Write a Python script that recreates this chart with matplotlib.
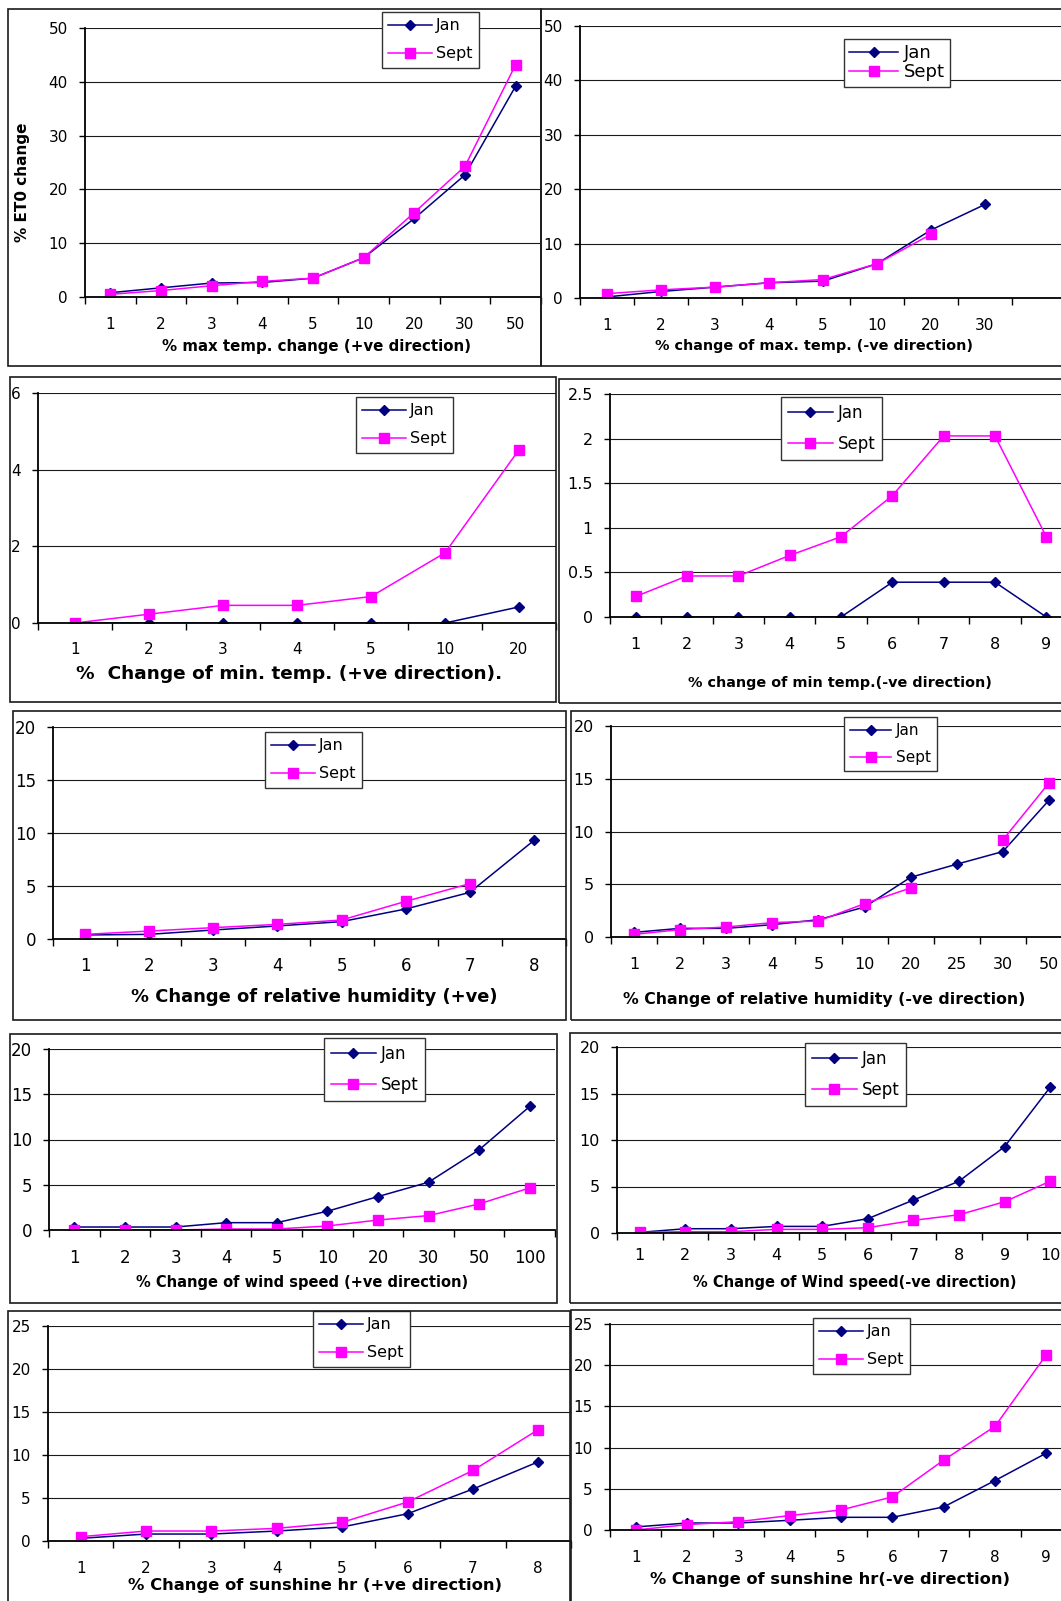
import numpy as np
import matplotlib.pyplot as plt
from matplotlib.patches import Rectangle
from matplotlib.ticker import FuncFormatter

plt.rcParams['font.family'] = ['DejaVu Sans']

W, H = 1061, 1601
JAN_COLOR = '#000080'
SEPT_COLOR = '#ff00ff'
nan = np.nan

# --- data (% ET0 change) ---
maxt_pos_cats = ['1', '2', '3', '4', '5', '10', '20', '30', '50']
maxt_pos_jan = [0.8, 1.7, 2.6, 2.7, 3.5, 7.3, 14.6, 22.7, 39.2]
maxt_pos_sept = [0.5, 1.2, 2.1, 2.9, 3.5, 7.3, 15.7, 24.3, 43.2]

maxt_neg_cats = ['1', '2', '3', '4', '5', '10', '20', '30', '']
maxt_neg_jan = [0.2, 1.2, 2.0, 2.8, 3.1, 6.3, 12.5, 17.2, nan]
maxt_neg_sept = [0.8, 1.5, 2.0, 2.8, 3.4, 6.3, 11.7, nan, nan]

mint_pos_cats = ['1', '2', '3', '4', '5', '10', '20']
mint_pos_jan = [0, 0, 0, 0, 0, 0, 0.42]
mint_pos_sept = [0, 0.23, 0.46, 0.46, 0.69, 1.83, 4.52]

mint_neg_cats = ['1', '2', '3', '4', '5', '6', '7', '8', '9']
mint_neg_jan = [0, 0, 0, 0, 0, 0.39, 0.39, 0.39, 0]
mint_neg_sept = [0.23, 0.46, 0.46, 0.69, 0.9, 1.36, 2.03, 2.03, 0.9]

rh_pos_cats = ['1', '2', '3', '4', '5', '6', '7', '8']
rh_pos_jan = [0.38, 0.44, 0.85, 1.23, 1.64, 2.83, 4.4, 9.3]
rh_pos_sept = [0.44, 0.75, 1.07, 1.38, 1.79, 3.55, 5.22, nan]

rh_neg_cats = ['1', '2', '3', '4', '5', '10', '20', '25', '30', '50']
rh_neg_jan = [0.44, 0.82, 0.82, 1.17, 1.64, 2.84, 5.66, 6.9, 8.1, 12.96]
rh_neg_sept = [0.25, 0.7, 0.95, 1.36, 1.52, 3.16, 4.65, nan, 9.2, 14.6]

wind_pos_cats = ['1', '2', '3', '4', '5', '10', '20', '30', '50', '100']
wind_pos_jan = [0.33, 0.33, 0.33, 0.81, 0.81, 2.07, 3.69, 5.28, 8.86, 13.65]
wind_pos_sept = [0, 0, 0, 0.11, 0.11, 0.44, 1.1, 1.59, 2.88, 4.65]

wind_neg_cats = ['1', '2', '3', '4', '5', '6', '7', '8', '9', '10']
wind_neg_jan = [0.07, 0.46, 0.46, 0.71, 0.71, 1.54, 3.54, 5.57, 9.29, 15.68]
wind_neg_sept = [0.07, 0.14, 0.14, 0.39, 0.39, 0.57, 1.36, 1.96, 3.36, 5.57]

sun_pos_cats = ['1', '2', '3', '4', '5', '6', '7', '8']
sun_pos_jan = [0.31, 0.81, 0.81, 1.16, 1.63, 3.17, 6.04, 9.21]
sun_pos_sept = [0.5, 1.16, 1.16, 1.47, 2.17, 4.53, 8.2, 12.96]

sun_neg_cats = ['1', '2', '3', '4', '5', '6', '7', '8', '9']
sun_neg_jan = [0.37, 0.85, 0.85, 1.18, 1.54, 1.54, 2.8, 6.0, 9.33]
sun_neg_sept = [0, 0.65, 1.01, 1.75, 2.43, 4.02, 8.48, 12.58, 21.27]


def fx(px):
    return px / W


def fy(py):
    return 1 - py / H


def draw_panel(fig, cats, jan, sept, ymax, ystep, xlabel, ax_px, box_px, leg_px,
               lab_px, lab_fs, tick_fs=10.5, leg_fs=11, leg_gap=0.8, leg_pad=0.4,
               tick_off=26, ylabel=None):
    left, top, right, bottom = ax_px
    ax = fig.add_axes([fx(left), fy(bottom), fx(right) - fx(left), fy(top) - fy(bottom)])
    x = np.arange(len(cats))
    ax.plot(x, jan, color=JAN_COLOR, marker='D', ms=4.6, lw=1.1, label='Jan')
    ax.plot(x, sept, color=SEPT_COLOR, marker='s', ms=7, lw=1.1, label='Sept')

    ax.set_xlim(-0.5, len(cats) - 0.5)
    ax.set_ylim(0, ymax)
    ax.set_yticks(np.arange(0, ymax + ystep / 2, ystep))
    ax.yaxis.set_major_formatter(FuncFormatter(lambda v, p: f'{v:g}'))
    ax.set_xticks(np.arange(len(cats) + 1) - 0.5)
    ax.set_xticklabels([])
    ax.set_xticks(x, minor=True)
    ax.set_xticklabels(cats, minor=True)

    fs_px = tick_fs * 100 / 72
    ax.tick_params(axis='x', which='major', direction='out', length=5, width=1)
    ax.tick_params(axis='x', which='minor', length=0, labelsize=tick_fs,
                   pad=(tick_off - 0.4 * fs_px) * 0.72)
    ax.tick_params(axis='y', direction='out', length=4.3, width=1, pad=8, labelsize=tick_fs)

    ax.grid(axis='y', color='#1a1a1a', lw=0.8)
    ax.set_axisbelow(True)
    for side in ('top', 'right'):
        ax.spines[side].set_visible(False)
    for side in ('left', 'bottom'):
        ax.spines[side].set_linewidth(1.3)

    ax.set_xlabel(xlabel, fontsize=lab_fs, fontweight='bold', va='center')
    ax.xaxis.set_label_coords((lab_px[0] - left) / (right - left),
                              (bottom - lab_px[1]) / (bottom - top))
    if ylabel:
        ax.set_ylabel(ylabel[0], fontsize=11, fontweight='bold', va='center')
        ax.yaxis.set_label_coords((ylabel[1] - left) / (right - left),
                                  (bottom - ylabel[2]) / (bottom - top))

    leg = ax.legend(loc='upper left', bbox_to_anchor=(fx(leg_px[0]), fy(leg_px[1])),
                    bbox_transform=fig.transFigure, borderaxespad=0, fancybox=False,
                    framealpha=1, edgecolor='#333333', fontsize=leg_fs,
                    handlelength=2.7, handletextpad=0.3, borderpad=leg_pad,
                    labelspacing=leg_gap)
    leg.get_frame().set_linewidth(1.0)

    bl, bt, br, bb = box_px
    fig.patches.append(Rectangle((fx(bl), fy(bb)), fx(br) - fx(bl), fy(bt) - fy(bb),
                                 transform=fig.transFigure, fill=False, lw=1.2,
                                 ec='#1a1a1a', zorder=5))
    return ax


fig = plt.figure(figsize=(W / 100, H / 100), dpi=100)

draw_panel(fig, maxt_pos_cats, maxt_pos_jan, maxt_pos_sept, 50, 10,
           '% max temp. change (+ve direction)',
           (85, 28, 541, 297), (8, 9, 541, 366), (382, 12), (316, 346), 10.8,
           tick_fs=11, leg_fs=11.5, ylabel=('% ET0 change', 23, 182))
draw_panel(fig, maxt_neg_cats, maxt_neg_jan, maxt_neg_sept, 50, 10,
           '% change of max. temp. (-ve direction)',
           (580, 26, 1066, 298), (541, 9, 1100, 366), (844, 39), (814, 346), 10.4,
           tick_fs=11, leg_fs=13, leg_gap=0.05, leg_pad=0.3)
draw_panel(fig, mint_pos_cats, mint_pos_jan, mint_pos_sept, 6, 2,
           '%  Change of min. temp. (+ve direction).',
           (38, 393, 556, 623), (10, 377, 556, 702), (356, 397), (289, 674), 13.3,
           tick_fs=11, leg_fs=11.5, tick_off=25)
draw_panel(fig, mint_neg_cats, mint_neg_jan, mint_neg_sept, 2.5, 0.5,
           '% change of min temp.(-ve direction)',
           (610, 394, 1072, 617), (559, 379, 1100, 703), (781, 397), (840, 683), 10.4,
           tick_fs=11.5, leg_fs=12)
draw_panel(fig, rh_pos_cats, rh_pos_jan, rh_pos_sept, 20, 5,
           '% Change of relative humidity (+ve)',
           (53, 727, 566, 939), (13, 711, 566, 1020), (265, 732), (314, 997), 12.9,
           tick_fs=12, leg_fs=11.5, tick_off=25)
draw_panel(fig, rh_neg_cats, rh_neg_jan, rh_neg_sept, 20, 5,
           '% Change of relative humidity (-ve direction)',
           (611, 726, 1072, 937), (571, 711, 1100, 1020), (844, 717), (824, 999), 11.3,
           tick_fs=11.5, leg_fs=11)
draw_panel(fig, wind_pos_cats, wind_pos_jan, wind_pos_sept, 20, 5,
           '% Change of wind speed (+ve direction)',
           (49, 1049, 555, 1230), (10, 1034, 557, 1303), (324, 1038), (302, 1283), 10.5,
           tick_fs=12, leg_fs=12)
draw_panel(fig, wind_neg_cats, wind_neg_jan, wind_neg_sept, 20, 5,
           '% Change of Wind speed(-ve direction)',
           (617, 1047, 1073, 1233), (570, 1033, 1100, 1303), (805, 1043), (855, 1283), 10.5,
           tick_fs=11.5, leg_fs=12, tick_off=21)
draw_panel(fig, sun_pos_cats, sun_pos_jan, sun_pos_sept, 25, 5,
           '% Change of sunshine hr (+ve direction)',
           (48, 1326, 571, 1541), (8, 1311, 570, 1650), (313, 1311), (315, 1585), 11.8,
           tick_fs=11, leg_fs=11.5)
draw_panel(fig, sun_neg_cats, sun_neg_jan, sun_neg_sept, 25, 5,
           '% Change of sunshine hr(-ve direction)',
           (610, 1324, 1072, 1530), (571, 1310, 1100, 1650), (813, 1318), (830, 1579), 11.7,
           tick_fs=11, leg_fs=11.5)

fig.savefig('out.png', dpi=100)
